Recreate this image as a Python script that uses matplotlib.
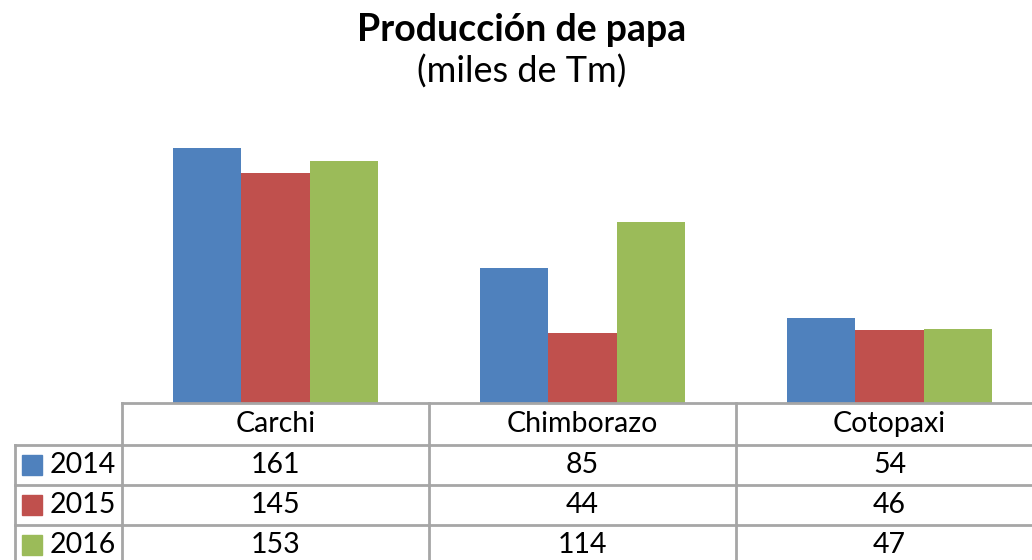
import numpy as np
import matplotlib.pyplot as plt
from matplotlib.patches import Rectangle
from matplotlib.lines import Line2D
import matplotlib.transforms as mtransforms

provinces = ["Carchi", "Chimborazo", "Cotopaxi"]
years = ["2014", "2015", "2016"]
v2014 = [161, 85, 54]
v2015 = [145, 44, 46]
v2016 = [153, 114, 47]
series = [v2014, v2015, v2016]
colors = ["#4F81BD", "#C0504D", "#9BBB59"]

W, H = 1032, 560
plt.rcParams["font.family"] = ["Lato", "DejaVu Sans"]

fig = plt.figure(figsize=(W / 100, H / 100), dpi=100)
fig.patch.set_facecolor("white")

def fy(py):
    # pixel row from top -> figure fraction
    return 1 - py / H

ax = fig.add_axes([122 / W, fy(403), (1043 - 122) / W, fy(118) - fy(403)])
x = np.arange(len(provinces))
w = 0.2215
for i, (vals, c) in enumerate(zip(series, colors)):
    ax.bar(x + (i - 1) * w, vals, width=w, color=c, edgecolor="none")

ax.set_xlim(-0.5, 2.5)
ax.set_ylim(0, 180)
ax.axis("off")

fig.text(522 / W, fy(30), "Producción de papa", ha="center", va="center",
         fontsize=27, fontweight="bold")
fig.text(522 / W, fy(72), "(miles de Tm)", ha="center", va="center", fontsize=26)

# data table under the bars
grid = "#a6a6a6"
fs = 20.5
bt = mtransforms.blended_transform_factory(ax.transData, fig.transFigure)
row_top = [403, 445, 485, 525]
row_mid = [424, 465, 505, 545]

fig.add_artist(Line2D([122 / W, 1.0], [fy(403)] * 2, color=grid, lw=2))
for py in row_top[1:]:
    fig.add_artist(Line2D([15 / W, 1.0], [fy(py)] * 2, color=grid, lw=2))
fig.add_artist(Line2D([15 / W] * 2, [fy(445), 0], color=grid, lw=2))
for xb in [-0.5, 0.5, 1.5]:
    ax.add_artist(Line2D([xb, xb], [fy(403), 0], color=grid, lw=2,
                         transform=bt, clip_on=False))

for j, p in enumerate(provinces):
    ax.text(j, fy(row_mid[0]), p, transform=bt, ha="center", va="center",
            fontsize=fs)
for i, (yr, vals, c) in enumerate(zip(years, series, colors)):
    ym = row_mid[i + 1]
    fig.add_artist(Rectangle((22 / W, fy(ym + 10)), 20 / W, 20 / H,
                             transform=fig.transFigure, color=c))
    fig.text(50 / W, fy(ym), yr, ha="left", va="center", fontsize=fs)
    for j, v in enumerate(vals):
        ax.text(j, fy(ym), str(v), transform=bt, ha="center", va="center",
                fontsize=fs)

fig.savefig("out.png", dpi=100)
